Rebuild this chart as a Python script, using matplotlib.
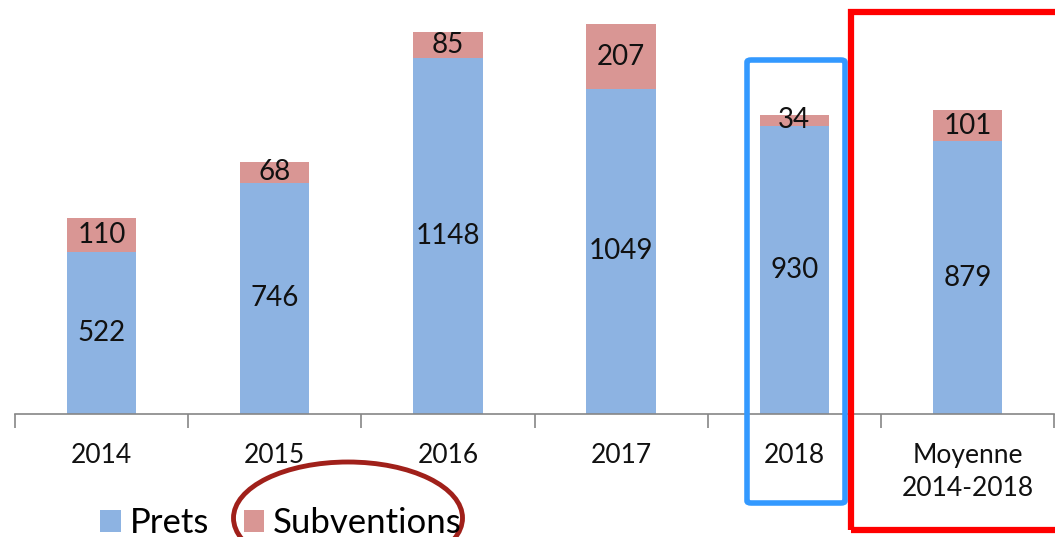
import matplotlib.pyplot as plt
import matplotlib.patches as patches
import numpy as np

categories = ["2014", "2015", "2016", "2017", "2018", "Moyenne\n2014-2018"]
prets = [522, 746, 1148, 1049, 930, 879]
subventions = [110, 68, 85, 207, 34, 101]

BLUE = "#8DB3E2"
PINK = "#D99694"

plt.rcParams['font.family'] = ['Lato', 'DejaVu Sans']

fig = plt.figure(figsize=(10.55, 5.37), dpi=100)
ax = fig.add_axes([15 / 1055, 123 / 537, 1039 / 1055, 414 / 537])

x = np.arange(len(categories))
b1 = ax.bar(x, prets, width=0.40, color=BLUE, label="Prets")
b2 = ax.bar(x, subventions, width=0.40, bottom=prets, color=PINK, label="Subventions")

for i in range(len(categories)):
    ax.text(x[i], prets[i] / 2, str(prets[i]), ha='center', va='center', fontsize=20, color='#111111')
    ax.text(x[i], prets[i] + subventions[i] / 2, str(subventions[i]), ha='center', va='center',
            fontsize=20, color='#111111')

ax.set_xlim(-0.5, len(categories) - 0.5)
ax.set_ylim(0, 1335)
ax.set_yticks([])
for s in ['top', 'right', 'left']:
    ax.spines[s].set_visible(False)
ax.spines['bottom'].set_color('#868686')
ax.spines['bottom'].set_linewidth(1.2)

ax.set_xticks(x)
ax.set_xticklabels(categories, fontsize=19, color='#111111', linespacing=1.4)
ax.tick_params(axis='x', which='major', length=0, pad=21)
ax.set_xticks(np.arange(len(categories) + 1) - 0.5, minor=True)
ax.tick_params(axis='x', which='minor', length=10, width=1.2, color='#868686')

leg = fig.legend(handles=[b1, b2], loc='center left', bbox_to_anchor=(86 / 1055, 1 - 523 / 537),
                 ncol=2, frameon=False, fontsize=25, handlelength=0.6, handleheight=0.6,
                 handletextpad=0.25, columnspacing=1.0, borderaxespad=0)

# highlight marks
fig.patches.append(patches.FancyBboxPatch((747 / 1055, 1 - 503 / 537), 98 / 1055, 443 / 537,
                                          boxstyle="round,pad=0,rounding_size=0.004",
                                          transform=fig.transFigure, fill=False,
                                          edgecolor='#3399FF', linewidth=4))
fig.patches.append(patches.Rectangle((851 / 1055, 1 - 530 / 537), 220 / 1055, 518 / 537,
                                     transform=fig.transFigure, fill=False,
                                     edgecolor='#FF0000', linewidth=4.5))
fig.patches.append(patches.Ellipse((348 / 1055, 1 - 518 / 537), 229 / 1055, 112 / 537,
                                   transform=fig.transFigure, fill=False,
                                   edgecolor='#A0201A', linewidth=3.5))

fig.savefig("out.png", dpi=100)
